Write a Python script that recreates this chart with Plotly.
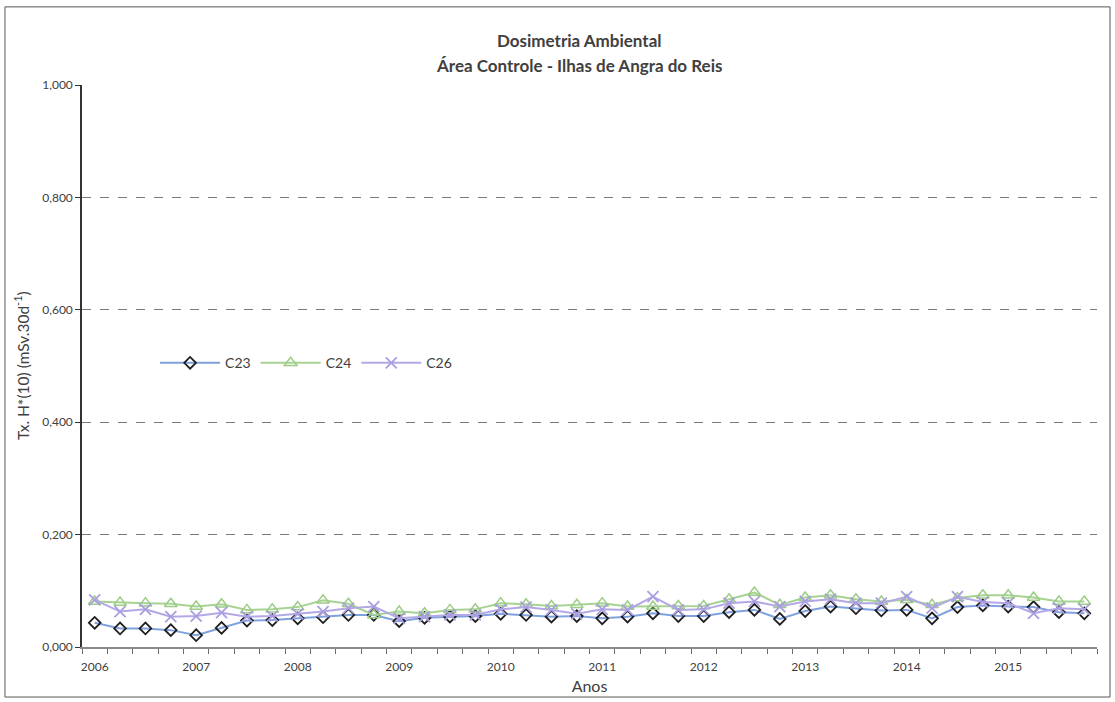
import plotly.graph_objects as go

years = list(range(2006, 2016))
quarter_offsets = [0.0, 0.25, 0.5, 0.75]
x_vals = [y + q for y in years for q in quarter_offsets]

c23 = [0.043, 0.033, 0.033, 0.030, 0.021, 0.034, 0.047, 0.048, 0.051, 0.053,
       0.057, 0.057, 0.046, 0.052, 0.054, 0.055, 0.059, 0.057, 0.054, 0.055,
       0.051, 0.054, 0.060, 0.055, 0.055, 0.062, 0.066, 0.050, 0.064, 0.072,
       0.069, 0.065, 0.066, 0.051, 0.071, 0.074, 0.072, 0.071, 0.062, 0.060]
c24 = [0.081, 0.079, 0.078, 0.077, 0.072, 0.076, 0.066, 0.067, 0.071, 0.083,
       0.077, 0.057, 0.063, 0.060, 0.066, 0.067, 0.078, 0.076, 0.073, 0.075,
       0.078, 0.072, 0.072, 0.073, 0.073, 0.085, 0.097, 0.075, 0.088, 0.092,
       0.085, 0.081, 0.084, 0.075, 0.087, 0.092, 0.092, 0.088, 0.081, 0.081]
c26 = [0.084, 0.063, 0.067, 0.054, 0.055, 0.061, 0.054, 0.055, 0.059, 0.063,
       0.069, 0.072, 0.051, 0.054, 0.057, 0.057, 0.067, 0.071, 0.066, 0.059,
       0.067, 0.066, 0.0895, 0.066, 0.067, 0.078, 0.081, 0.072, 0.081, 0.085,
       0.078, 0.078, 0.0895, 0.069, 0.0895, 0.080, 0.078, 0.060, 0.069, 0.067]

year_labels = [str(y) for y in years]
y_ticks = [0.0, 0.2, 0.4, 0.6, 0.8, 1.0]

FONT = "Lato"
TXT = "#404040"

fig = go.Figure()
fig.add_trace(go.Scatter(
    x=x_vals, y=c23, name="C23", mode="lines+markers",
    line=dict(color="#7fa2de", width=2),
    marker=dict(symbol="diamond-open", size=9, color="#1e1e1e", line=dict(width=1.8, color="#1e1e1e")),
))
fig.add_trace(go.Scatter(
    x=x_vals, y=c24, name="C24", mode="lines+markers",
    line=dict(color="#a6d391", width=2),
    marker=dict(symbol="triangle-up-open", size=11, color="#9ccc86", line=dict(width=1.5, color="#9ccc86")),
))
fig.add_trace(go.Scatter(
    x=x_vals, y=c26, name="C26", mode="lines+markers",
    line=dict(color="#b3a8e6", width=2),
    marker=dict(symbol="x-thin-open", size=11, color="#a99ee0", line=dict(width=1.8, color="#a99ee0")),
))

fig.update_layout(
    width=1115, height=702,
    margin=dict(l=82, r=18, t=85, b=55),
    paper_bgcolor="white", plot_bgcolor="white",
    separators=",.",
    font=dict(family=FONT, size=12, color=TXT),
    showlegend=True,
    legend=dict(orientation="h", x=0.072, y=0.505, xanchor="left", yanchor="middle",
                bgcolor="rgba(0,0,0,0)", font=dict(size=14, color=TXT),
                itemwidth=60, tracegroupgap=0),
    xaxis=dict(
        range=[2005.875, 2015.875], automargin=False,
        tickmode="array", tickvals=years, ticktext=year_labels,
        ticks="", showgrid=False, zeroline=False,
        showline=True, linecolor="#8a8a8a", linewidth=1.5,
        tickfont=dict(size=12, color=TXT, family=FONT),
        ticklabelstandoff=8,
        minor=dict(ticks="outside", tick0=2005.875, dtick=0.25, ticklen=5,
                   tickcolor="#6a6a6a", tickwidth=1, showgrid=False),
        title=dict(text="Anos", font=dict(size=16, color=TXT, family=FONT), standoff=8),
    ),
    yaxis=dict(
        range=[0, 1.0], automargin=False,
        tickmode="array", tickvals=y_ticks, tickformat=".3f",
        ticks="outside", ticklen=5, tickcolor="#333333",
        showgrid=True, gridcolor="#7a7a7a", griddash="dash", gridwidth=1,
        zeroline=False, showline=True, linecolor="#333333", linewidth=1.5,
        tickfont=dict(size=12, color=TXT, family=FONT),
    ),
    shapes=[dict(type="rect", xref="paper", yref="paper",
                 x0=-0.0759, x1=1.0128, y0=-0.089, y1=1.139,
                 line=dict(color="#555555", width=1), fillcolor="rgba(0,0,0,0)", layer="below")],
    annotations=[
        dict(text="<b>Dosimetria Ambiental</b>",
             xref="paper", yref="paper", x=0.49, y=1.080, xanchor="center", yanchor="middle",
             showarrow=False, font=dict(size=17, color=TXT, family=FONT)),
        dict(text="<b>Área Controle - Ilhas de Angra do Reis</b>",
             xref="paper", yref="paper", x=0.49, y=1.034, xanchor="center", yanchor="middle",
             showarrow=False, font=dict(size=17, color=TXT, family=FONT)),
        dict(text="Tx. H*(10) (mSv.30d<sup>-1</sup>)", textangle=-90,
             xref="paper", yref="paper", x=-0.060, y=0.5, xanchor="center", yanchor="middle",
             showarrow=False, font=dict(size=15.5, color=TXT, family=FONT)),
    ],
)

fig.write_html("out.html", config={"displayModeBar": False},
               post_script="document.body.style.margin='0';")
